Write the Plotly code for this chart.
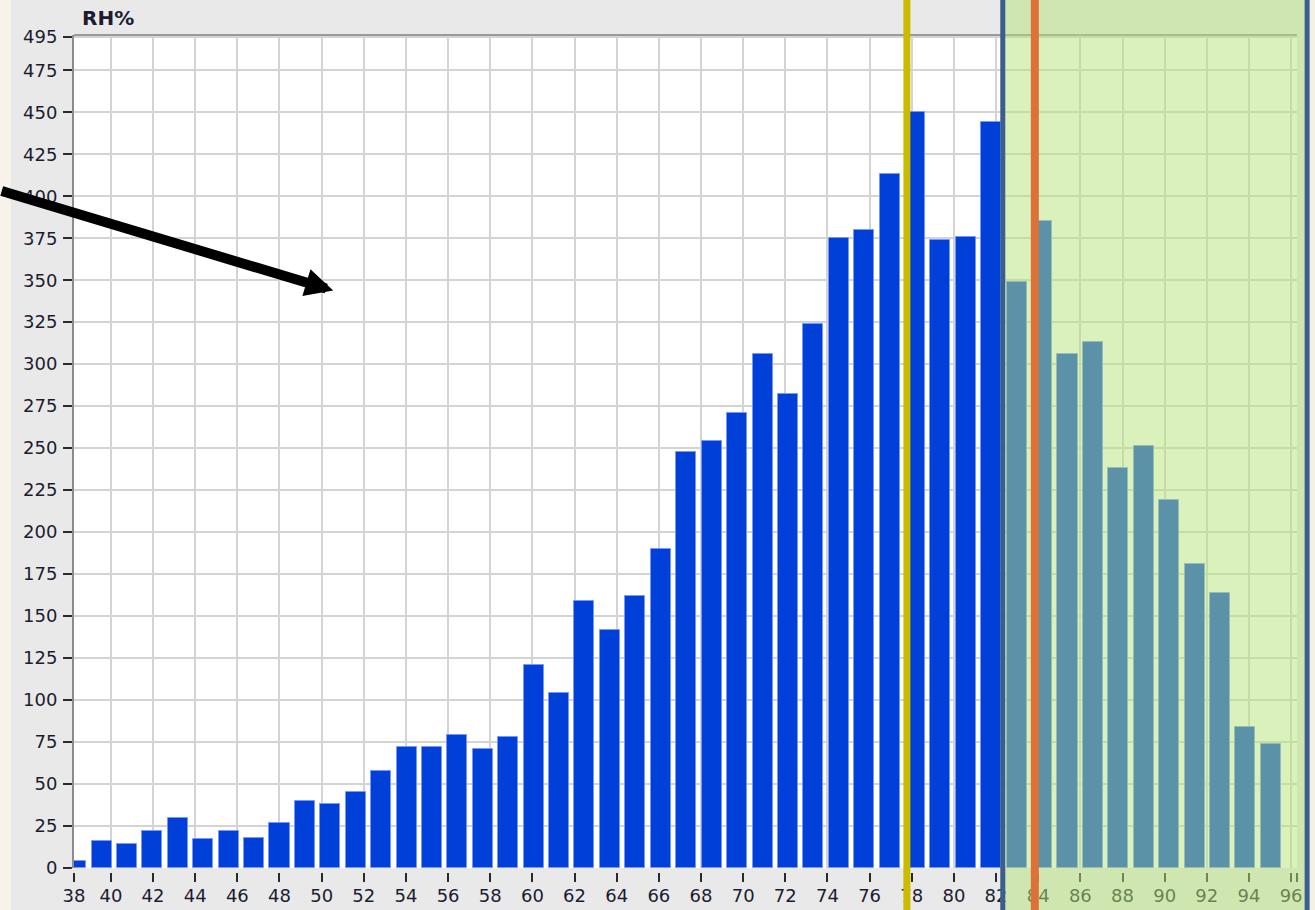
import plotly.graph_objects as go

# ---- data -------------------------------------------------------------
rh_bin_centers = [38.35, 39.56, 40.76, 41.97, 43.18, 44.38, 45.59, 46.79,
                  48.00, 49.21, 50.41, 51.62, 52.83, 54.03, 55.24, 56.44,
                  57.65, 58.86, 60.06, 61.27, 62.47, 63.68, 64.89, 66.09,
                  67.30, 68.50, 69.71, 70.92, 72.12, 73.33, 74.54, 75.74,
                  76.95, 78.15, 79.36, 80.57, 81.77, 82.98, 84.18, 85.39,
                  86.60, 87.80, 89.01, 90.21, 91.42, 92.63, 93.83, 95.04]
counts = [4, 16, 14, 22, 30, 17, 22, 18, 27, 40, 38, 45, 58,
          72, 72, 79, 71, 78, 121, 104, 159, 142, 162, 190,
          248, 254, 271, 306, 282, 324, 375, 380, 413, 450, 374, 376, 444,
          349, 385, 306, 313, 238, 251, 219, 181, 164, 84, 74]

x_tick_vals = [38.25] + list(range(40, 97, 2)) + [96.28]
x_tick_text = ["38"] + [str(v) for v in range(40, 97, 2)] + [""]
y_tick_vals = list(range(0, 476, 25)) + [495]
y_tick_text = [str(v) for v in y_tick_vals]

x_range = [38.25, 96.28]
y_range = [0, 496]

# overlay markers (in RH units)
yellow_line_rh = 77.77
orange_line_rh = 83.84
zone_start_rh = 82.32
zone_end_rh = 96.76
arrow_tip = (50.55, 343.8)

PLOT_H = 910 - 35 - 42

# ---- figure -------------------------------------------------------------
def px(v):
    return (v - x_range[0]) / (x_range[1] - x_range[0])

fig = go.Figure()
fig.add_trace(go.Bar(
    x=rh_bin_centers, y=counts, width=0.95,
    marker=dict(color="#0040d8", line=dict(color="rgba(120,150,255,0.9)", width=1)),
    hoverinfo="skip", showlegend=False,
))

fig.update_layout(
    width=1315, height=910, autosize=False,
    margin=dict(l=74, r=18, t=35, b=42, pad=0),
    paper_bgcolor="#e9e9e9", plot_bgcolor="#ffffff",
    font=dict(family="DejaVu Sans", size=18, color="#1c1c30"),
    bargap=0,
    xaxis=dict(range=x_range, tickmode="array", tickvals=x_tick_vals, ticktext=x_tick_text,
               showgrid=True, gridcolor="#d4d4d4", gridwidth=2, zeroline=False,
               ticks="outside", ticklen=13, tickwidth=2, tickcolor="#2a2a2a",
               ticklabelstandoff=-2,
               showline=False, tickangle=0, fixedrange=True, automargin=False),
    yaxis=dict(range=y_range, tickmode="array", tickvals=y_tick_vals, ticktext=y_tick_text,
               showgrid=True, gridcolor="#d4d4d4", gridwidth=2, zeroline=False,
               ticks="outside", ticklen=9, tickwidth=2, tickcolor="#2a2a2a",
               ticklabelstandoff=2,
               showline=True, linecolor="#8c8c8c", linewidth=2, fixedrange=True,
               automargin=False),
    shapes=[
        # beige strips at the edges of the screenshot
        dict(type="rect", xref="paper", yref="paper", layer="below",
             x0=-0.2, x1=-63 / 1223, y0=-0.2, y1=1.2,
             fillcolor="#f8f3ea", line=dict(width=0)),
        dict(type="rect", xref="paper", yref="paper", layer="below",
             x0=px(zone_end_rh), x1=1.2, y0=-0.2, y1=1.2,
             fillcolor="#f5f0e4", line=dict(width=0)),
        # gap between plot bottom and x tick marks
        dict(type="rect", xref="paper", yref="paper", layer="above",
             x0=-0.002, x1=1.002, y0=-5 / PLOT_H, y1=-0.5 / PLOT_H,
             fillcolor="#e9e9e9", line=dict(width=0)),
        # top border of plot
        dict(type="line", xref="paper", yref="paper", x0=0, x1=1, y0=1, y1=1,
             line=dict(color="#999999", width=2), layer="above"),
        # green zone
        dict(type="rect", xref="paper", yref="paper", layer="above",
             x0=px(zone_start_rh), x1=px(zone_end_rh), y0=-0.2, y1=1.2,
             fillcolor="rgba(182,227,119,0.5)", line=dict(color="#3b5e8c", width=5)),
        # yellow line
        dict(type="line", xref="paper", yref="paper", layer="above",
             x0=px(yellow_line_rh), x1=px(yellow_line_rh), y0=-0.2, y1=1.2,
             line=dict(color="#c9bc00", width=7)),
        # orange line
        dict(type="line", xref="paper", yref="paper", layer="above",
             x0=px(orange_line_rh), x1=px(orange_line_rh), y0=-0.2, y1=1.2,
             line=dict(color="#de7138", width=8)),
    ],
    annotations=[
        dict(text="<b>RH%</b>", xref="paper", yref="paper", x=0.005, y=1 + 17 / PLOT_H,
             xanchor="left", yanchor="middle", showarrow=False,
             font=dict(family="DejaVu Sans", size=20, color="#1c1c30")),
        dict(text="", x=arrow_tip[0], y=arrow_tip[1], xref="x", yref="y",
             showarrow=True, ax=-333, ay=-100, arrowhead=2, arrowsize=0.56,
             arrowwidth=10, arrowcolor="#000000", standoff=0),
    ],
)

fig.write_html("out.html", config={"displayModeBar": False},
               post_script="document.body.style.margin='0px';document.body.style.padding='0px';")
